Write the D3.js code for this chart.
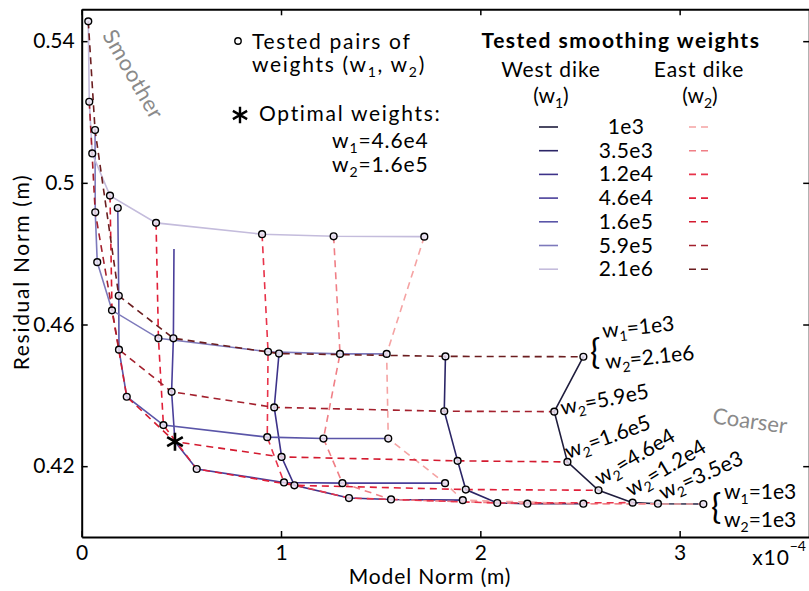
<!DOCTYPE html>
<html>
<head>
<meta charset="utf-8">
<script src="https://cdn.jsdelivr.net/npm/d3@7"></script>
<style>
  html, body { margin: 0; padding: 0; background: #fff; }
  svg { display: block; font-family: Lato, "Noto Sans", sans-serif; }
</style>
</head>
<body>
<svg id="chart" width="809" height="591"></svg>
<script>
// Smoothing weights tested for the west dike (w1) and the east dike (w2)
const weightLabels = ["1e3", "3.5e3", "1.2e4", "4.6e4", "1.6e5", "5.9e5", "2.1e6"];

// [model norm (x1e-4 m), residual norm (m)] along each fixed-w1 curve, ordered from large w2 to small w2
const westCurves = [
  [[2.517, 0.4509], [2.371, 0.4354], [2.437, 0.4212], [2.593, 0.4132], [2.764, 0.4097], [2.891, 0.4094], [3.119, 0.4093]],
  [[1.825, 0.4510], [1.819, 0.4355], [1.886, 0.4215], [1.927, 0.4134], [2.085, 0.4096], [2.236, 0.4094], [2.517, 0.4094]],
  [[0.990, 0.4518], [0.966, 0.4366], [1.003, 0.4226], [1.067, 0.4146], [1.341, 0.4110], [1.552, 0.4106], [1.912, 0.4104]],
  [[0.463, 0.4813], [0.460, 0.4561], [0.451, 0.4410], [0.468, 0.4269], [0.577, 0.4192], [1.015, 0.4154], [1.308, 0.4152], [1.823, 0.4152]],
  [[0.181, 0.4929], [0.186, 0.4681], [0.187, 0.4529], [0.226, 0.4396], [0.410, 0.4316], [0.931, 0.4282], [1.213, 0.4278], [1.538, 0.4278]],
  [[0.067, 0.5149], [0.068, 0.4917], [0.078, 0.4776], [0.152, 0.4640], [0.385, 0.4561], [0.935, 0.4523], [1.296, 0.4517], [1.530, 0.4517]],
  [[0.033, 0.5456], [0.038, 0.5229], [0.053, 0.5083], [0.142, 0.4964], [0.373, 0.4887], [0.905, 0.4855], [1.264, 0.4849], [1.719, 0.4848]]
];

// Same pairs joined along each fixed-w2 curve, ordered from large w1 to small w1
const eastCurves = [
  [[1.719, 0.4848], [1.530, 0.4517], [1.538, 0.4278], [1.823, 0.4152], [1.912, 0.4104], [2.517, 0.4094], [3.119, 0.4093]],
  [[1.264, 0.4849], [1.296, 0.4517], [1.213, 0.4278], [1.308, 0.4152], [1.552, 0.4106], [2.236, 0.4094], [2.891, 0.4094]],
  [[0.905, 0.4855], [0.935, 0.4523], [0.931, 0.4282], [1.015, 0.4154], [1.341, 0.4110], [2.085, 0.4096], [2.764, 0.4097]],
  [[0.373, 0.4887], [0.385, 0.4561], [0.410, 0.4316], [0.577, 0.4192], [1.067, 0.4146], [1.927, 0.4134], [2.593, 0.4132]],
  [[0.142, 0.4964], [0.152, 0.4640], [0.226, 0.4396], [0.468, 0.4269], [1.003, 0.4226], [1.886, 0.4215], [2.437, 0.4212]],
  [[0.038, 0.5229], [0.068, 0.4917], [0.187, 0.4529], [0.451, 0.4410], [0.966, 0.4366], [1.819, 0.4355], [2.371, 0.4354]],
  [[0.033, 0.5456], [0.067, 0.5149], [0.186, 0.4681], [0.460, 0.4561], [0.990, 0.4518], [1.825, 0.4510], [2.517, 0.4509]]
];

// Chosen pair: w1 = 4.6e4, w2 = 1.6e5
const optimalPair = [0.468, 0.4269];
// [curve, point] of west-curve vertices that carry no circle
const unmarkedVertices = [[3, 0]];

const xTicks = [0, 1, 2, 3];
const yTicks = [0.42, 0.46, 0.5, 0.54];

const westColors = ["#1f1d3d", "#2b2566", "#3d3289", "#4a3f9a", "#5a55a8", "#7d79bb", "#c4bcdc"];
const eastColors = ["#f5a3a3", "#f07f86", "#e8334a", "#e01f38", "#d41a2f", "#a3202d", "#6b1d1f"];

const svg = d3.select("#chart");
const FONT = 21;
const SUB = 14;
const WIDE = 1.7;   // letter spacing for word labels
const MID = 0.9;

const x = d3.scaleLinear().domain([0, 3.65]).range([81.7, 809.2]);
const y = d3.scaleLinear().domain([0.40, 0.549]).range([537, 9.3]);

// ---- axes box with inward ticks ----
function styleAxis(g) {
  g.select(".domain").attr("stroke", "#000").attr("stroke-width", 2);
  g.selectAll(".tick line").attr("stroke", "#000").attr("stroke-width", 1.5);
  g.selectAll(".tick text").attr("font-size", FONT).attr("font-family", "Lato").attr("fill", "#000");
}
svg.append("g")
  .attr("transform", `translate(0,${y.range()[0]})`)
  .call(d3.axisBottom(x).tickValues(xTicks).tickSize(-6).tickSizeOuter(0).tickPadding(8).tickFormat(d3.format("d")))
  .call(styleAxis);
svg.append("g")
  .attr("transform", `translate(0,${y.range()[1]})`)
  .call(d3.axisTop(x).tickValues(xTicks).tickSize(-6).tickSizeOuter(0).tickFormat(""))
  .call(styleAxis);
svg.append("g")
  .attr("transform", `translate(${x.range()[0]},0)`)
  .call(d3.axisLeft(y).tickValues(yTicks).tickSize(-6).tickSizeOuter(0).tickPadding(7).tickFormat(d => String(d)))
  .call(styleAxis);
svg.append("g")
  .attr("transform", `translate(${x.range()[1]},0)`)
  .call(d3.axisRight(y).tickValues(yTicks).tickSize(-6).tickSizeOuter(0).tickFormat(""))
  .call(styleAxis);

// axis titles
svg.append("text").attr("x", 430).attr("y", 584).attr("text-anchor", "middle")
  .attr("font-size", FONT).attr("letter-spacing", MID).text("Model Norm (m)");
svg.append("text").attr("transform", "translate(29,272) rotate(-90)").attr("text-anchor", "middle")
  .attr("font-size", FONT).attr("letter-spacing", WIDE).text("Residual Norm (m)");
// axis multiplier, kept inside the right edge
const expo = svg.append("text").attr("x", 806).attr("y", 565).attr("text-anchor", "end").attr("font-size", FONT);
expo.append("tspan").attr("letter-spacing", MID).text("x10");
expo.append("tspan").attr("dy", -14).attr("font-size", 14).text("\u22124");

// ---- curves ----
const line = d3.line().x(d => x(d[0])).y(d => y(d[1]));

svg.append("g").selectAll("path")
  .data(westCurves)
  .join("path")
  .attr("d", line)
  .attr("fill", "none")
  .attr("stroke", (d, i) => westColors[i])
  .attr("stroke-width", 1.6);

svg.append("g").selectAll("path")
  .data(eastCurves)
  .join("path")
  .attr("d", line)
  .attr("fill", "none")
  .attr("stroke", (d, i) => eastColors[i])
  .attr("stroke-width", 1.6)
  .attr("stroke-dasharray", "7,5");

// tested pairs
const skip = new Set(unmarkedVertices.map(([c, p]) => c + ":" + p));
const tested = [];
westCurves.forEach((curve, c) => curve.forEach((pt, p) => {
  if (skip.has(c + ":" + p)) return;
  if (pt[0] === optimalPair[0] && pt[1] === optimalPair[1]) return;
  tested.push(pt);
}));
svg.append("g").selectAll("circle")
  .data(tested)
  .join("circle")
  .attr("cx", d => x(d[0]))
  .attr("cy", d => y(d[1]))
  .attr("r", 3.4)
  .attr("fill", "#e8e3f2")
  .attr("fill-opacity", 0.85)
  .attr("stroke", "#000")
  .attr("stroke-width", 1.4);

// optimal pair
const star = d3.symbol(d3.symbolAsterisk, 230);
svg.append("path")
  .attr("d", star())
  .attr("transform", `translate(${x(optimalPair[0])},${y(optimalPair[1])})`)
  .attr("fill", "none").attr("stroke", "#000").attr("stroke-width", 2.6);

// ---- text helpers ----
function wText(parent, sub, value, opts) {
  const size = opts.size || FONT;
  const t = parent.append("text")
    .attr("font-size", size)
    .attr("letter-spacing", opts.spacing || 0)
    .attr("transform", `translate(${opts.x},${opts.y}) rotate(${opts.angle || 0})`);
  t.append("tspan").text("w");
  t.append("tspan").attr("font-size", SUB).attr("dy", 5).text(sub);
  t.append("tspan").attr("dy", -5).text(value);
  return t;
}

// ---- markers legend ----
svg.append("circle").attr("cx", 238).attr("cy", 41).attr("r", 3.2)
  .attr("fill", "none").attr("stroke", "#000").attr("stroke-width", 1.4);
svg.append("text").attr("x", 252).attr("y", 48.5).attr("font-size", FONT)
  .attr("letter-spacing", WIDE).text("Tested pairs of");
const wp = svg.append("text").attr("x", 252).attr("y", 72).attr("font-size", FONT).attr("letter-spacing", WIDE);
wp.append("tspan").text("weights (w");
wp.append("tspan").attr("font-size", SUB).attr("dy", 5).text("1");
wp.append("tspan").attr("dy", -5).text(", w");
wp.append("tspan").attr("font-size", SUB).attr("dy", 5).text("2");
wp.append("tspan").attr("dy", -5).text(")");

svg.append("path").attr("d", d3.symbol(d3.symbolAsterisk, 190)())
  .attr("transform", "translate(240,115)")
  .attr("fill", "none").attr("stroke", "#000").attr("stroke-width", 2.4);
svg.append("text").attr("x", 259).attr("y", 121).attr("font-size", FONT)
  .attr("letter-spacing", WIDE).text("Optimal weights:");
wText(svg, "1", "=" + weightLabels[3], { x: 332, y: 148, spacing: MID });
wText(svg, "2", "=" + weightLabels[4], { x: 332, y: 172, spacing: MID });

// ---- smoothing weight legend ----
svg.append("text").attr("x", 621).attr("y", 48).attr("text-anchor", "middle")
  .attr("font-size", FONT).attr("font-weight", "bold").attr("letter-spacing", 1.5).text("Tested smoothing weights");
svg.append("text").attr("x", 551).attr("y", 77).attr("text-anchor", "middle").attr("font-size", FONT)
  .attr("letter-spacing", MID).text("West dike");
svg.append("text").attr("x", 699).attr("y", 77).attr("text-anchor", "middle").attr("font-size", FONT)
  .attr("letter-spacing", MID).text("East dike");
[["1", 551], ["2", 700]].forEach(([s, cx]) => {
  const t = svg.append("text").attr("x", cx).attr("y", 103).attr("text-anchor", "middle").attr("font-size", FONT);
  t.append("tspan").text("(w");
  t.append("tspan").attr("font-size", SUB).attr("dy", 5).text(s);
  t.append("tspan").attr("dy", -5).text(")");
});
const legRows = svg.append("g").selectAll("g")
  .data(weightLabels)
  .join("g")
  .attr("transform", (d, i) => `translate(0,${127 + i * 23.7})`);
legRows.append("line").attr("x1", 539).attr("x2", 558)
  .attr("stroke", (d, i) => westColors[i]).attr("stroke-width", 1.6);
legRows.append("line").attr("x1", 689).attr("x2", 708)
  .attr("stroke", (d, i) => eastColors[i]).attr("stroke-width", 1.6).attr("stroke-dasharray", "7,5");
legRows.append("text").attr("x", 626).attr("y", 7).attr("text-anchor", "middle")
  .attr("font-size", FONT).attr("letter-spacing", 0.4).text(d => d);

// ---- annotations along the w1 = 1e3 curve ----
const gray = "#8a8a8a";
svg.append("text").attr("transform", "translate(134,74) rotate(60)")
  .attr("text-anchor", "middle").attr("dominant-baseline", "central")
  .attr("font-size", 22).attr("letter-spacing", 0.6).attr("fill", gray).text("Smoother");
svg.append("text").attr("transform", "translate(750,420) rotate(8)")
  .attr("text-anchor", "middle").attr("dominant-baseline", "central")
  .attr("font-size", 22).attr("fill", gray).text("Coarser");

svg.append("text").attr("x", 590).attr("y", 364).attr("font-size", 34).text("{");
wText(svg, "1", "=" + weightLabels[0], { x: 603, y: 338, angle: -6 });
wText(svg, "2", "=" + weightLabels[6], { x: 606, y: 369, angle: -6 });
wText(svg, "2", "=" + weightLabels[5], { x: 562, y: 415, angle: -11 });
wText(svg, "2", "=" + weightLabels[4], { x: 568, y: 459, angle: -20 });
wText(svg, "2", "=" + weightLabels[3], { x: 600, y: 486, angle: -31 });
wText(svg, "2", "=" + weightLabels[2], { x: 631, y: 497, angle: -31 });
wText(svg, "2", "=" + weightLabels[1], { x: 663, y: 500, angle: -24 });
svg.append("text").attr("x", 711).attr("y", 519).attr("font-size", 34).text("{");
wText(svg, "1", "=" + weightLabels[0], { x: 724, y: 499 });
wText(svg, "2", "=" + weightLabels[0], { x: 724, y: 527 });
</script>
</body>
</html>
